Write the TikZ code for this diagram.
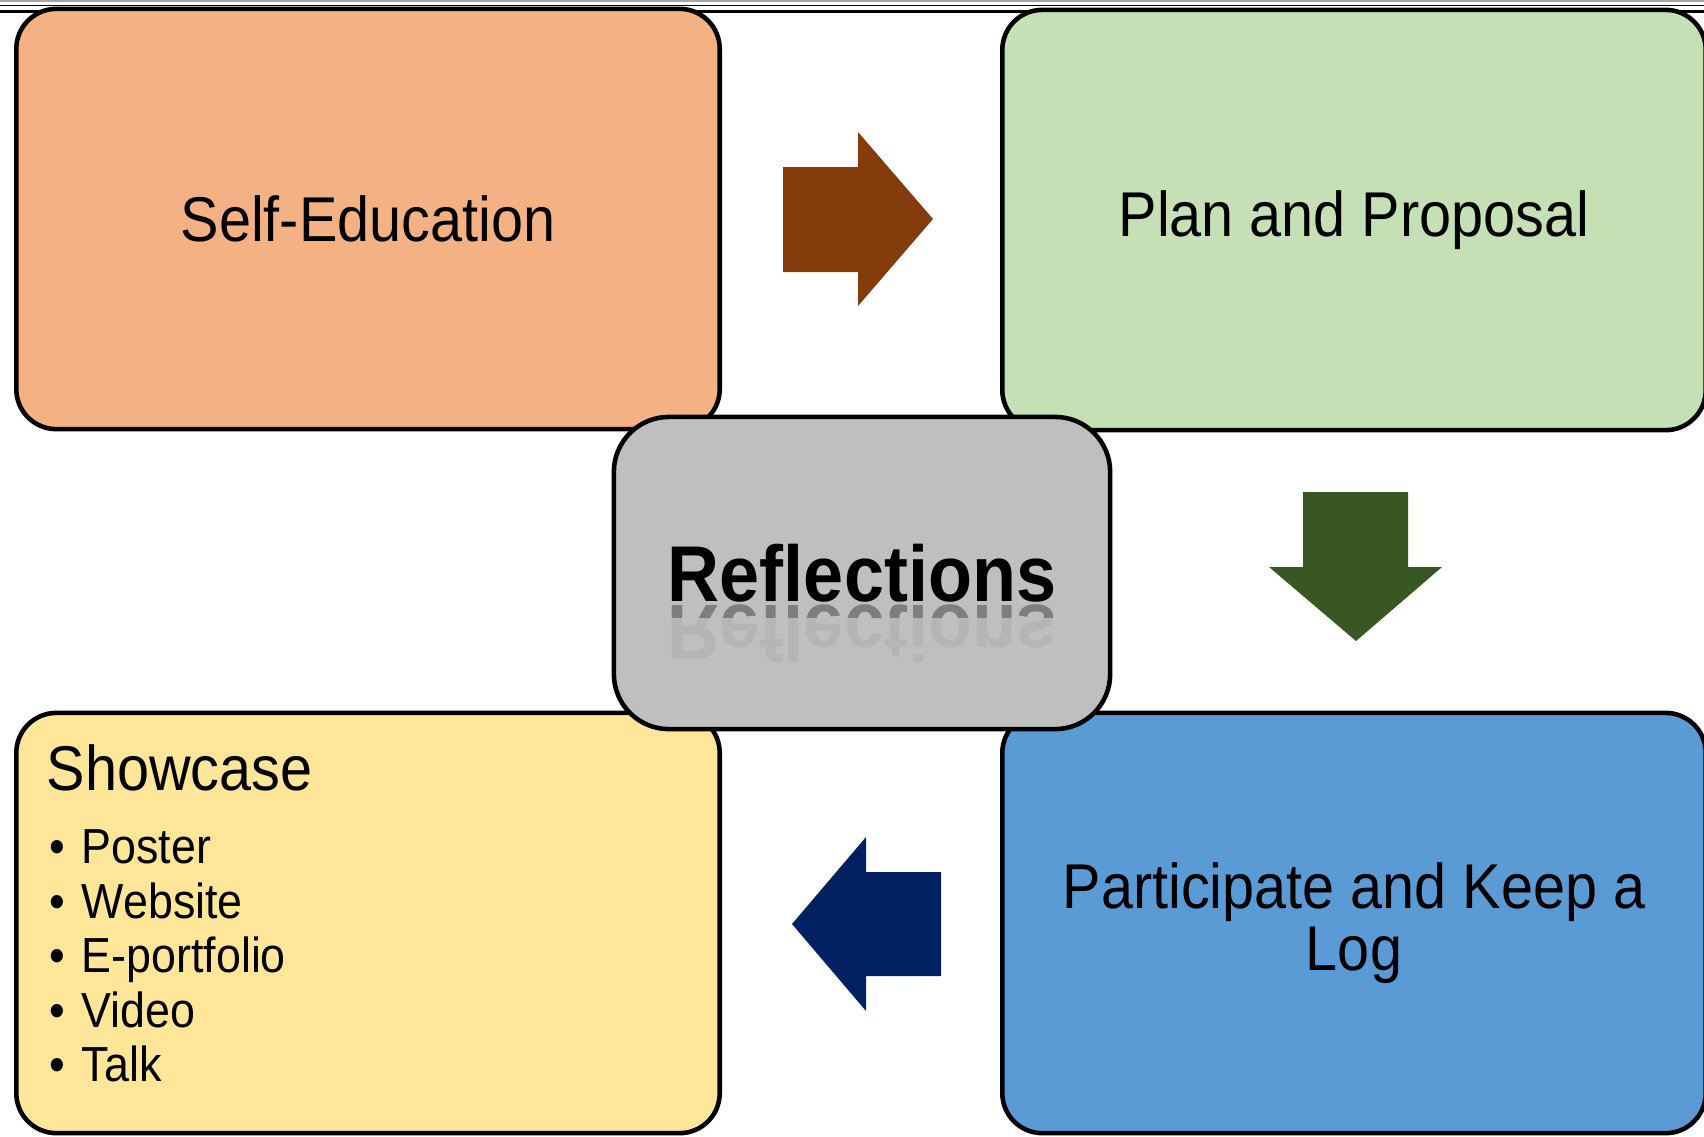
\documentclass[tikz,border=0pt]{standalone}
\usepackage{fontspec}
\setmainfont{Liberation Sans}[FakeStretch=0.91]
\usepackage{graphicx}
\usetikzlibrary{positioning}

\definecolor{selfcol}{HTML}{F4B183}
\definecolor{plancol}{HTML}{C5E0B4}
\definecolor{reflcol}{HTML}{BFBFBF}
\definecolor{showcol}{HTML}{FFE699}
\definecolor{logcol}{HTML}{5B9BD5}
\definecolor{brownarrow}{HTML}{843C0C}
\definecolor{greenarrow}{HTML}{385723}
\definecolor{bluearrow}{HTML}{002060}

\tikzset{
	phase/.style={draw, line width=1.3pt, rounded corners=0.4cm, minimum width=7.03cm, minimum height=4.2cm, inner sep=0pt, align=center, font=\fontsize{18}{17.6}\selectfont},
	hub/.style={draw, line width=1.3pt, rounded corners=0.55cm, fill=reflcol, minimum width=4.96cm, minimum height=3.12cm, inner sep=0pt, font=\fontsize{22.5}{24}\selectfont\bfseries},
	entry/.style={anchor=base west, inner sep=0pt, font=\fontsize{14}{15.5}\selectfont},
	echotext/.style={anchor=north, inner sep=0pt, font=\fontsize{22.5}{24}\selectfont\bfseries},
}

\begin{document}
\begin{tikzpicture}[x=0.01cm, y=-0.01cm]
		\useasboundingbox (0,0) rectangle (1704,1136);
		
		\draw[black!35, line width=0.3pt] (0,1) -- (1704,1);
		\draw[line width=0.45pt] (0,5.5) -- (1704,5.5);
		\draw[line width=0.7pt] (0,11.5) -- (1704,11.5);
		
		\node[phase, fill=selfcol] (self) at (368,219) {Self-Education};
		\node[phase, fill=plancol] (plan) at (1354,220) {Plan and Proposal};
		\node[phase, fill=showcol] (show) at (368,923) {};
		\node[phase, fill=logcol] (log) at (1354,923) {Participate and Keep a\\Log};
		
		\fill[brownarrow] (783,167) -- (858,167) -- (858,132) -- (933,219) -- (858,306) -- (858,272) -- (783,272) -- cycle;
		\fill[greenarrow] (1303,492) -- (1408,492) -- (1408,567) -- (1442,567) -- (1356,641) -- (1269,567) -- (1303,567) -- cycle;
		\fill[bluearrow] (941,872) -- (866,872) -- (866,837) -- (792,924) -- (866,1011) -- (866,976) -- (941,976) -- cycle;
		
		\node[hub] (refl) at (862,573) {Reflections};
		\node[echotext, text opacity=0.05] (echo) at ([yshift=-0.03cm]refl.base) {\scalebox{1}[-1]{Reflections}};
		\begin{scope}
			\clip ([yshift=-0.03cm]refl.base -| refl.west) rectangle ([yshift=-0.16cm]refl.base -| refl.east);
			\node[echotext, text opacity=0.3] (echotop) at ([yshift=-0.03cm]refl.base) {\scalebox{1}[-1]{Reflections}};
		\end{scope}
		
		\node[entry, font=\fontsize{18}{18}\selectfont] (title) at ([xshift=0.32cm, yshift=-0.8cm]show.north west) {Showcase};
		\foreach \entryname [count=\i] in {Poster,Website,E-portfolio,Video,Talk}
			\node[entry] (item\i) at ([xshift=0.35cm, yshift={-1.53cm-(\i-1)*0.545cm}]show.north west) {\makebox[0.32cm][l]{•}\entryname};
	\end{tikzpicture}
\end{document}
